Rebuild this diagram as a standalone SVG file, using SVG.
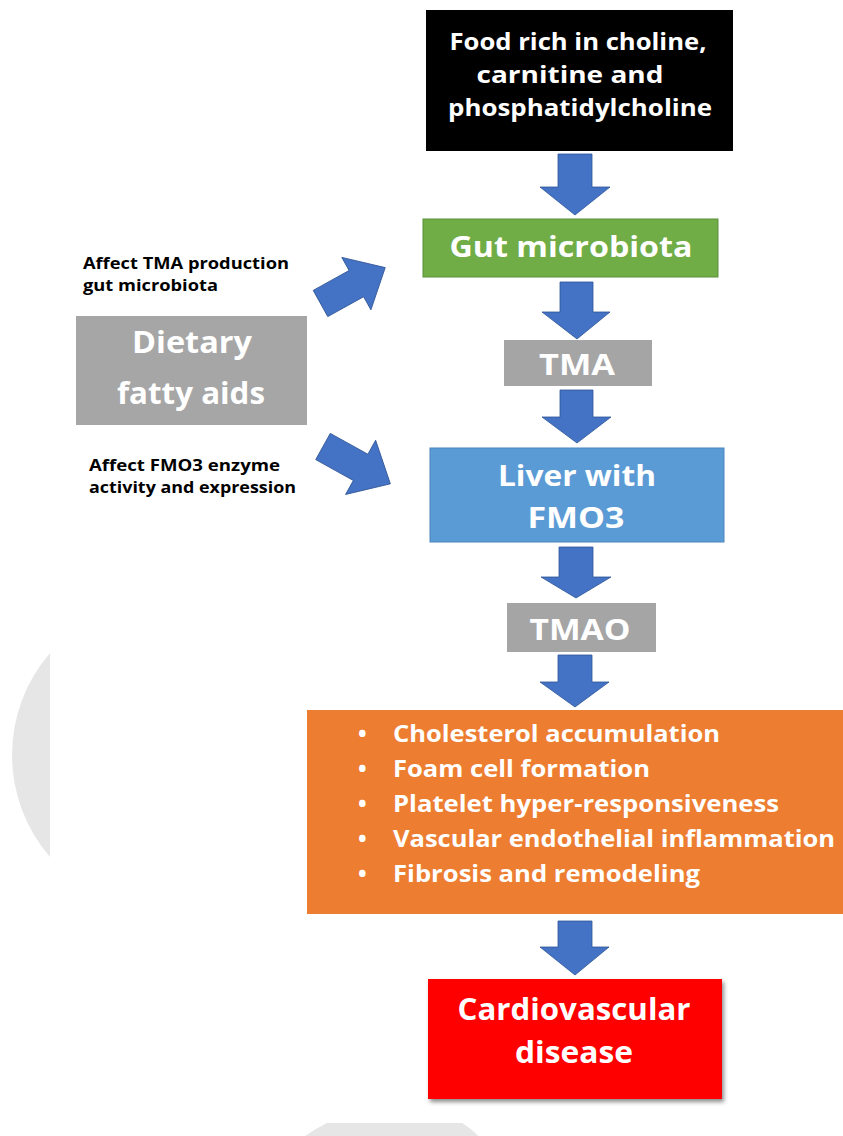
<svg xmlns="http://www.w3.org/2000/svg" width="843" height="1136" viewBox="0 0 843 1136">
<style>
.t{font-family:"Open Sans","DejaVu Sans",sans-serif;font-weight:700;fill:#fff;text-anchor:middle}
.lab{font-family:"Open Sans","DejaVu Sans",sans-serif;font-weight:700;fill:#000;font-size:16.5px}
.bul{font-family:"Open Sans","DejaVu Sans",sans-serif;font-weight:700;fill:#fff;font-size:23px}
.arr{fill:#4472c4;stroke:#2f5597;stroke-width:0.8}
</style>
<defs>
<filter id="sh" x="-10%" y="-10%" width="125%" height="130%">
<feDropShadow dx="2" dy="3" stdDeviation="2" flood-color="#000" flood-opacity="0.45"/>
</filter>
</defs>
<g id="background">
<path d="M50,653 A156,156 0 0 0 50,857 Z" fill="#e6e6e6"/>
<path d="M327,1123 L462,1123 Q472,1129 478,1136 L305,1136 Q315,1129 327,1123 Z" fill="#e6e6e6"/>
</g>
<g id="food">
<rect x="426" y="10" width="307" height="141" fill="#000"/>
<text class="t" font-size="24"><tspan x="578" y="50" textLength="257" lengthAdjust="spacingAndGlyphs">Food rich in choline,</tspan><tspan x="570" y="83" textLength="187" lengthAdjust="spacingAndGlyphs">carnitine and</tspan><tspan x="580" y="116" textLength="264" lengthAdjust="spacingAndGlyphs">phosphatidylcholine</tspan></text>
</g>
<g id="gut">
<rect x="423" y="219" width="295" height="58" fill="#70ad47" stroke="#5a8f38" stroke-width="1"/>
<text class="t" font-size="29" x="571" y="257" textLength="243" lengthAdjust="spacingAndGlyphs">Gut microbiota</text>
</g>
<g id="tma">
<rect x="504" y="340" width="148" height="46" fill="#a5a5a5"/>
<text class="t" font-size="29" x="577" y="375" textLength="76" lengthAdjust="spacingAndGlyphs">TMA</text>
</g>
<g id="liver">
<rect x="430" y="448" width="294" height="94" fill="#5b9bd5" stroke="#4a86bd" stroke-width="1"/>
<text class="t" font-size="29"><tspan x="577" y="486" textLength="158" lengthAdjust="spacingAndGlyphs">Liver with</tspan><tspan x="576" y="528" textLength="97" lengthAdjust="spacingAndGlyphs">FMO3</tspan></text>
</g>
<g id="tmao">
<rect x="507" y="603" width="149" height="49" fill="#a5a5a5"/>
<text class="t" font-size="29" x="580" y="640" textLength="101" lengthAdjust="spacingAndGlyphs">TMAO</text>
</g>
<g id="effects">
<rect x="307" y="710" width="536" height="204" fill="#ed7d31"/>
<text class="bul"><tspan x="358" y="742">•</tspan><tspan x="393" y="742" textLength="327" lengthAdjust="spacingAndGlyphs">Cholesterol accumulation</tspan></text>
<text class="bul"><tspan x="358" y="777">•</tspan><tspan x="393" y="777" textLength="257" lengthAdjust="spacingAndGlyphs">Foam cell formation</tspan></text>
<text class="bul"><tspan x="358" y="812">•</tspan><tspan x="393" y="812" textLength="386" lengthAdjust="spacingAndGlyphs">Platelet hyper-responsiveness</tspan></text>
<text class="bul"><tspan x="358" y="847">•</tspan><tspan x="393" y="847" textLength="442" lengthAdjust="spacingAndGlyphs">Vascular endothelial inflammation</tspan></text>
<text class="bul"><tspan x="358" y="882">•</tspan><tspan x="393" y="882" textLength="307" lengthAdjust="spacingAndGlyphs">Fibrosis and remodeling</tspan></text>
</g>
<g id="cvd">
<rect x="428" y="979" width="294" height="120" fill="#ff0000" filter="url(#sh)"/>
<text class="t" font-size="30"><tspan x="574" y="1020" textLength="233" lengthAdjust="spacingAndGlyphs">Cardiovascular</tspan><tspan x="574" y="1063" textLength="118" lengthAdjust="spacingAndGlyphs">disease</tspan></text>
</g>
<g id="dietary">
<rect x="76" y="316" width="231" height="109" fill="#a6a6a6"/>
<text class="t" font-size="31"><tspan x="192" y="353" textLength="120" lengthAdjust="spacingAndGlyphs">Dietary</tspan><tspan x="191" y="404" textLength="148" lengthAdjust="spacingAndGlyphs">fatty aids</tspan></text>
</g>
<g id="labels">
<text class="lab"><tspan x="83" y="269" textLength="206" lengthAdjust="spacingAndGlyphs">Affect TMA production</tspan><tspan x="83" y="291" textLength="135" lengthAdjust="spacingAndGlyphs">gut microbiota</tspan></text>
<text class="lab"><tspan x="89" y="471" textLength="191" lengthAdjust="spacingAndGlyphs">Affect FMO3 enzyme</tspan><tspan x="89" y="493" textLength="207" lengthAdjust="spacingAndGlyphs">activity and expression</tspan></text>
</g>
<g id="connectors">
<path class="arr" d="M558,154 H592 V187 H610 L575,215 L540,187 H558 Z"/>
<path class="arr" d="M560,282 H593 V312 H610 L577,339 L542,312 H560 Z"/>
<path class="arr" d="M560,390 H593 V417 H611 L577,443 L542,417 H560 Z"/>
<path class="arr" d="M559,547 H593 V577 H611 L576,598 L541,577 H559 Z"/>
<path class="arr" d="M558,655 H592 V682 H609 L575,707 L540,682 H558 Z"/>
<path class="arr" d="M558,921 H592 V947 H609 L575,975 L540,947 H558 Z"/>
<path class="arr" transform="translate(320.5,303.5) rotate(-29)" d="M0,-15 H41 V-30 L74,0 L41,30 V15 H0 Z"/>
<path class="arr" transform="translate(323,446.5) rotate(29)" d="M0,-15 H43 V-31 L77,0 L43,31 V15 H0 Z"/>
</g>
</svg>
